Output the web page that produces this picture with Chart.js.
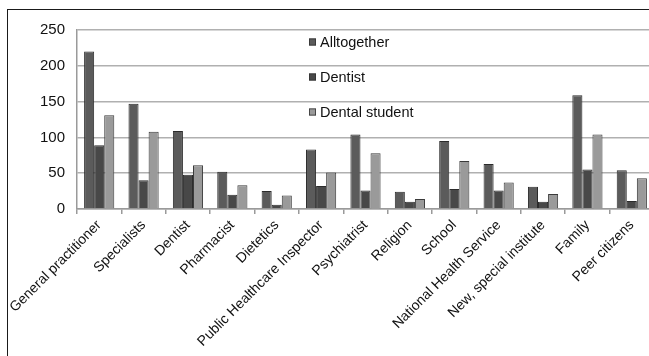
<!DOCTYPE html>
<html>
<head>
<meta charset="utf-8">
<script src="https://cdn.jsdelivr.net/npm/chart.js@4/dist/chart.umd.min.js"></script>
<style>
  html, body { margin: 0; padding: 0; background: #fff; overflow: hidden; width: 649px; height: 356px; }
  #frame { position: absolute; left: 7px; top: 9px; width: 700px; height: 400px;
           border-top: 1.5px solid #1a1a1a; border-left: 1.5px solid #1a1a1a; }
  #c { position: absolute; left: 0; top: 0; }
</style>
</head>
<body>
<div id="frame"></div>
<canvas id="c" width="660" height="356"></canvas>
<script>
const categories = [
  'General practitioner', 'Specialists', 'Dentist', 'Pharmacist', 'Dietetics',
  'Public Healthcare Inspector', 'Psychiatrist', 'Religion', 'School',
  'National Health Service', 'New, special institute', 'Family', 'Peer citizens'
];
const alltogether   = [220, 147, 109, 52, 25, 83, 104, 24, 95, 63, 31, 159, 54];
const dentist       = [89, 40, 48, 20, 6, 32, 26, 10, 28, 26, 10, 55, 11];
const dentalStudent = [131, 108, 61, 33, 19, 51, 78, 14, 67, 37, 21, 104, 43];
const yTicks = [0, 50, 100, 150, 200, 250];

const FONT = '"Liberation Sans", Arial, sans-serif';

// Legend stacked inside the plot area, one entry per gridline band
const insideLegend = {
  id: 'insideLegend',
  afterDatasetsDraw(chart) {
    const ctx = chart.ctx;
    const x0 = 309;
    const rows = [42, 77, 112];
    ctx.save();
    ctx.font = '14.5px ' + FONT;
    ctx.textBaseline = 'middle';
    ctx.textAlign = 'left';
    chart.data.datasets.forEach((ds, i) => {
      const y = rows[i];
      ctx.fillStyle = ds.backgroundColor;
      ctx.fillRect(x0, y - 3.5, 7, 7);
      ctx.strokeStyle = '#333';
      ctx.lineWidth = 0.8;
      ctx.strokeRect(x0 + 0.4, y - 3.1, 6.2, 6.2);
      ctx.fillStyle = '#111';
      ctx.fillText(ds.label, x0 + 11, y + 0.5);
    });
    ctx.restore();
  }
};

new Chart(document.getElementById('c'), {
  type: 'bar',
  data: {
    labels: categories,
    datasets: [
      { label: 'Alltogether', data: alltogether, backgroundColor: '#5b5b5b', borderColor: '#2b2b2b', borderWidth: 1 },
      { label: 'Dentist', data: dentist, backgroundColor: '#484848', borderColor: '#2b2b2b', borderWidth: 1 },
      { label: 'Dental student', data: dentalStudent, backgroundColor: '#9a9a9a', borderColor: '#3a3a3a', borderWidth: 1 }
    ]
  },
  options: {
    responsive: false,
    animation: false,
    events: [],
    layout: { padding: { top: 30, right: 6, left: 0, bottom: 0 } },
    datasets: { bar: { categoryPercentage: 0.68, barPercentage: 1.0 } },
    plugins: { legend: { display: false }, tooltip: { enabled: false } },
    scales: {
      x: {
        grid: { display: true, drawOnChartArea: false, drawTicks: true, tickLength: 5, color: '#9a9a9a', lineWidth: 1.5, offset: true },
        border: { display: true, color: '#9a9a9a', width: 1.5 },
        ticks: { minRotation: 45, maxRotation: 45, autoSkip: false, padding: 3, color: '#111', font: { family: FONT, size: 14 } },
        afterFit(scale) { scale.paddingLeft = 0; scale.paddingRight = 0; scale.height = 147; }
      },
      y: {
        min: 0, max: 250,
        afterBuildTicks(scale) { scale.ticks = yTicks.map(v => ({ value: v })); },
        grid: { color: '#b0b0b0', lineWidth: 1.5, drawTicks: false },
        border: { display: true, color: '#9a9a9a', width: 1.5 },
        ticks: { padding: 12, color: '#111', font: { family: FONT, size: 15 } },
        afterFit(scale) { scale.width = 77; scale.paddingTop = 0; scale.paddingBottom = 0; }
      }
    }
  },
  plugins: [insideLegend]
});
</script>
</body>
</html>
